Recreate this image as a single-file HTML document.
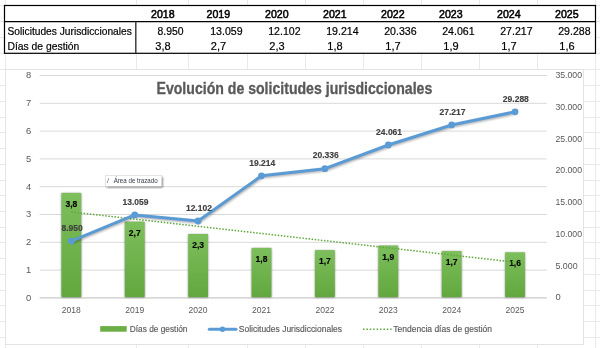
<!DOCTYPE html>
<html><head><meta charset="utf-8"><style>
html,body{margin:0;padding:0;background:#fff;width:600px;height:348px;overflow:hidden}
svg{display:block;will-change:transform}
</style></head><body>
<svg width="600" height="348" viewBox="0 0 600 348">
<line x1="5.5" y1="0" x2="5.5" y2="348" stroke="#e9e9e9" stroke-width="1"/>
<line x1="136.5" y1="0" x2="136.5" y2="348" stroke="#e9e9e9" stroke-width="1"/>
<line x1="188.5" y1="0" x2="188.5" y2="348" stroke="#e9e9e9" stroke-width="1"/>
<line x1="247.5" y1="0" x2="247.5" y2="348" stroke="#e9e9e9" stroke-width="1"/>
<line x1="305.5" y1="0" x2="305.5" y2="348" stroke="#e9e9e9" stroke-width="1"/>
<line x1="363.5" y1="0" x2="363.5" y2="348" stroke="#e9e9e9" stroke-width="1"/>
<line x1="421.5" y1="0" x2="421.5" y2="348" stroke="#e9e9e9" stroke-width="1"/>
<line x1="479.5" y1="0" x2="479.5" y2="348" stroke="#e9e9e9" stroke-width="1"/>
<line x1="537.5" y1="0" x2="537.5" y2="348" stroke="#e9e9e9" stroke-width="1"/>
<line x1="595.5" y1="0" x2="595.5" y2="348" stroke="#e9e9e9" stroke-width="1"/>
<line x1="0" y1="5.5" x2="600" y2="5.5" stroke="#e9e9e9" stroke-width="1"/>
<line x1="0" y1="21.5" x2="600" y2="21.5" stroke="#e9e9e9" stroke-width="1"/>
<line x1="0" y1="37.5" x2="600" y2="37.5" stroke="#e9e9e9" stroke-width="1"/>
<line x1="0" y1="53.5" x2="600" y2="53.5" stroke="#e9e9e9" stroke-width="1"/>
<line x1="0" y1="69.5" x2="600" y2="69.5" stroke="#e9e9e9" stroke-width="1"/>
<line x1="0" y1="85.5" x2="600" y2="85.5" stroke="#e9e9e9" stroke-width="1"/>
<line x1="0" y1="101.5" x2="600" y2="101.5" stroke="#e9e9e9" stroke-width="1"/>
<line x1="0" y1="117.5" x2="600" y2="117.5" stroke="#e9e9e9" stroke-width="1"/>
<line x1="0" y1="132.5" x2="600" y2="132.5" stroke="#e9e9e9" stroke-width="1"/>
<line x1="0" y1="148.5" x2="600" y2="148.5" stroke="#e9e9e9" stroke-width="1"/>
<line x1="0" y1="164.5" x2="600" y2="164.5" stroke="#e9e9e9" stroke-width="1"/>
<line x1="0" y1="180.5" x2="600" y2="180.5" stroke="#e9e9e9" stroke-width="1"/>
<line x1="0" y1="195.5" x2="600" y2="195.5" stroke="#e9e9e9" stroke-width="1"/>
<line x1="0" y1="211.5" x2="600" y2="211.5" stroke="#e9e9e9" stroke-width="1"/>
<line x1="0" y1="227.5" x2="600" y2="227.5" stroke="#e9e9e9" stroke-width="1"/>
<line x1="0" y1="242.5" x2="600" y2="242.5" stroke="#e9e9e9" stroke-width="1"/>
<line x1="0" y1="258.5" x2="600" y2="258.5" stroke="#e9e9e9" stroke-width="1"/>
<line x1="0" y1="274.5" x2="600" y2="274.5" stroke="#e9e9e9" stroke-width="1"/>
<line x1="0" y1="290.5" x2="600" y2="290.5" stroke="#e9e9e9" stroke-width="1"/>
<line x1="0" y1="305.5" x2="600" y2="305.5" stroke="#e9e9e9" stroke-width="1"/>
<line x1="0" y1="321.5" x2="600" y2="321.5" stroke="#e9e9e9" stroke-width="1"/>
<line x1="0" y1="337.5" x2="600" y2="337.5" stroke="#e9e9e9" stroke-width="1"/>
<rect x="4.5" y="5.5" width="591" height="48" fill="#fff"/>
<g stroke="#000" fill="none">
<rect x="4.5" y="5.5" width="591" height="47.8" stroke-width="1.2"/>
<line x1="4.5" y1="21.6" x2="595.5" y2="21.6" stroke-width="1.2"/>
<line x1="135.8" y1="21.6" x2="135.8" y2="53.3" stroke-width="1.4" stroke="#333"/>
</g>
<g font-family='"Liberation Sans", sans-serif' font-size="11" fill="#000" stroke="#000" stroke-width="0.2">
<text x="7.5" y="34.8" textLength="124.3" lengthAdjust="spacingAndGlyphs">Solicitudes Jurisdiccionales</text>
<text x="7.5" y="49.5" textLength="71.8" lengthAdjust="spacingAndGlyphs">Días de gestión</text>
<text x="162.8" y="17.8" text-anchor="middle" font-size="11.6" stroke-width="0.55" textLength="23.6" lengthAdjust="spacingAndGlyphs">2018</text>
<text x="183.6" y="34.8" text-anchor="end" textLength="26.0" lengthAdjust="spacingAndGlyphs">8.950</text>
<text x="163.0" y="49.5" text-anchor="middle">3,8</text>
<text x="218.3" y="17.8" text-anchor="middle" font-size="11.6" stroke-width="0.55" textLength="23.6" lengthAdjust="spacingAndGlyphs">2019</text>
<text x="242.6" y="34.8" text-anchor="end" textLength="32.4" lengthAdjust="spacingAndGlyphs">13.059</text>
<text x="218.5" y="49.5" text-anchor="middle">2,7</text>
<text x="276.8" y="17.8" text-anchor="middle" font-size="11.6" stroke-width="0.55" textLength="23.6" lengthAdjust="spacingAndGlyphs">2020</text>
<text x="300.6" y="34.8" text-anchor="end" textLength="32.4" lengthAdjust="spacingAndGlyphs">12.102</text>
<text x="277.0" y="49.5" text-anchor="middle">2,3</text>
<text x="334.8" y="17.8" text-anchor="middle" font-size="11.6" stroke-width="0.55" textLength="23.6" lengthAdjust="spacingAndGlyphs">2021</text>
<text x="358.6" y="34.8" text-anchor="end" textLength="32.4" lengthAdjust="spacingAndGlyphs">19.214</text>
<text x="335.0" y="49.5" text-anchor="middle">1,8</text>
<text x="392.8" y="17.8" text-anchor="middle" font-size="11.6" stroke-width="0.55" textLength="23.6" lengthAdjust="spacingAndGlyphs">2022</text>
<text x="416.6" y="34.8" text-anchor="end" textLength="32.4" lengthAdjust="spacingAndGlyphs">20.336</text>
<text x="393.0" y="49.5" text-anchor="middle">1,7</text>
<text x="450.8" y="17.8" text-anchor="middle" font-size="11.6" stroke-width="0.55" textLength="23.6" lengthAdjust="spacingAndGlyphs">2023</text>
<text x="474.6" y="34.8" text-anchor="end" textLength="32.4" lengthAdjust="spacingAndGlyphs">24.061</text>
<text x="451.0" y="49.5" text-anchor="middle">1,9</text>
<text x="508.8" y="17.8" text-anchor="middle" font-size="11.6" stroke-width="0.55" textLength="23.6" lengthAdjust="spacingAndGlyphs">2024</text>
<text x="532.6" y="34.8" text-anchor="end" textLength="32.4" lengthAdjust="spacingAndGlyphs">27.217</text>
<text x="509.0" y="49.5" text-anchor="middle">1,7</text>
<text x="566.8" y="17.8" text-anchor="middle" font-size="11.6" stroke-width="0.55" textLength="23.6" lengthAdjust="spacingAndGlyphs">2025</text>
<text x="590.6" y="34.8" text-anchor="end" textLength="32.4" lengthAdjust="spacingAndGlyphs">29.288</text>
<text x="567.0" y="49.5" text-anchor="middle">1,6</text>
</g>
<rect x="5.5" y="69.5" width="578.0" height="275.0" fill="#fff" stroke="#e3e3e3" stroke-width="1"/>
<line x1="39.65" y1="297.9" x2="546.75" y2="297.9" stroke="#d9d9d9" stroke-width="1.7"/>
<line x1="39.65" y1="270.09999999999997" x2="546.75" y2="270.09999999999997" stroke="#d9d9d9" stroke-width="1"/>
<line x1="39.65" y1="242.29999999999998" x2="546.75" y2="242.29999999999998" stroke="#d9d9d9" stroke-width="1"/>
<line x1="39.65" y1="214.5" x2="546.75" y2="214.5" stroke="#d9d9d9" stroke-width="1"/>
<line x1="39.65" y1="186.7" x2="546.75" y2="186.7" stroke="#d9d9d9" stroke-width="1"/>
<line x1="39.65" y1="158.89999999999998" x2="546.75" y2="158.89999999999998" stroke="#d9d9d9" stroke-width="1"/>
<line x1="39.65" y1="131.1" x2="546.75" y2="131.1" stroke="#d9d9d9" stroke-width="1"/>
<line x1="39.65" y1="103.30000000000001" x2="546.75" y2="103.30000000000001" stroke="#d9d9d9" stroke-width="1"/>
<line x1="39.65" y1="75.5" x2="546.75" y2="75.5" stroke="#d9d9d9" stroke-width="1"/>
<g font-family='"Liberation Sans", sans-serif' font-size="9.4" fill="#595959">
<text x="28.6" y="300.7" text-anchor="middle">0</text>
<text x="28.6" y="272.9" text-anchor="middle">1</text>
<text x="28.6" y="245.1" text-anchor="middle">2</text>
<text x="28.6" y="217.3" text-anchor="middle">3</text>
<text x="28.6" y="189.5" text-anchor="middle">4</text>
<text x="28.6" y="161.7" text-anchor="middle">5</text>
<text x="28.6" y="133.9" text-anchor="middle">6</text>
<text x="28.6" y="106.10000000000001" text-anchor="middle">7</text>
<text x="28.6" y="78.3" text-anchor="middle">8</text>
<text x="555.4" y="300.4">0</text>
<text x="555.4" y="268.62857142857143" textLength="22.2" lengthAdjust="spacingAndGlyphs">5.000</text>
<text x="555.4" y="236.85714285714283" textLength="26.7" lengthAdjust="spacingAndGlyphs">10.000</text>
<text x="555.4" y="205.0857142857143" textLength="26.7" lengthAdjust="spacingAndGlyphs">15.000</text>
<text x="555.4" y="173.31428571428572" textLength="26.7" lengthAdjust="spacingAndGlyphs">20.000</text>
<text x="555.4" y="141.54285714285714" textLength="26.7" lengthAdjust="spacingAndGlyphs">25.000</text>
<text x="555.4" y="109.77142857142857" textLength="26.7" lengthAdjust="spacingAndGlyphs">30.000</text>
<text x="555.4" y="78.0" textLength="26.7" lengthAdjust="spacingAndGlyphs">35.000</text>
<text x="71.34375" y="313.0" text-anchor="middle" textLength="19.0" lengthAdjust="spacingAndGlyphs">2018</text>
<text x="134.73125000000002" y="313.0" text-anchor="middle" textLength="19.0" lengthAdjust="spacingAndGlyphs">2019</text>
<text x="198.11875" y="313.0" text-anchor="middle" textLength="19.0" lengthAdjust="spacingAndGlyphs">2020</text>
<text x="261.50625" y="313.0" text-anchor="middle" textLength="19.0" lengthAdjust="spacingAndGlyphs">2021</text>
<text x="324.89375" y="313.0" text-anchor="middle" textLength="19.0" lengthAdjust="spacingAndGlyphs">2022</text>
<text x="388.28125" y="313.0" text-anchor="middle" textLength="19.0" lengthAdjust="spacingAndGlyphs">2023</text>
<text x="451.66875" y="313.0" text-anchor="middle" textLength="19.0" lengthAdjust="spacingAndGlyphs">2024</text>
<text x="515.05625" y="313.0" text-anchor="middle" textLength="19.0" lengthAdjust="spacingAndGlyphs">2025</text>
</g>
<text x="156.5" y="93.6" font-family='"Liberation Sans", sans-serif' font-size="15.8" font-weight="bold" fill="#595959" stroke="#595959" stroke-width="0.3" textLength="275.8" lengthAdjust="spacingAndGlyphs">Evolución de solicitudes jurisdiccionales</text>
<defs><linearGradient id="bg" x1="0" y1="0" x2="0" y2="1"><stop offset="0" stop-color="#7dbf5c"/><stop offset="1" stop-color="#62a73e"/></linearGradient><filter id="bsh" x="-30%" y="-10%" width="160%" height="120%"><feGaussianBlur stdDeviation="1.2"/></filter><filter id="lsh" x="-10%" y="-10%" width="120%" height="120%"><feGaussianBlur stdDeviation="0.9"/></filter></defs>
<rect x="61.44375" y="193.4" width="19.8" height="103.79999999999998" fill="#000" opacity="0.45" filter="url(#bsh)"/>
<rect x="61.44375" y="192.9" width="19.8" height="104.29999999999998" fill="url(#bg)"/>
<rect x="124.83125000000001" y="222.1" width="19.8" height="75.1" fill="#000" opacity="0.45" filter="url(#bsh)"/>
<rect x="124.83125000000001" y="221.6" width="19.8" height="75.6" fill="url(#bg)"/>
<rect x="188.21875" y="234.5" width="19.8" height="62.69999999999999" fill="#000" opacity="0.45" filter="url(#bsh)"/>
<rect x="188.21875" y="234.0" width="19.8" height="63.19999999999999" fill="url(#bg)"/>
<rect x="251.60625000000002" y="248.4" width="19.8" height="48.79999999999998" fill="#000" opacity="0.45" filter="url(#bsh)"/>
<rect x="251.60625000000002" y="247.9" width="19.8" height="49.29999999999998" fill="url(#bg)"/>
<rect x="314.99375000000003" y="250.6" width="19.8" height="46.599999999999994" fill="#000" opacity="0.45" filter="url(#bsh)"/>
<rect x="314.99375000000003" y="250.1" width="19.8" height="47.099999999999994" fill="url(#bg)"/>
<rect x="378.38125" y="246.0" width="19.8" height="51.19999999999999" fill="#000" opacity="0.45" filter="url(#bsh)"/>
<rect x="378.38125" y="245.5" width="19.8" height="51.69999999999999" fill="url(#bg)"/>
<rect x="441.76875" y="251.5" width="19.8" height="45.69999999999999" fill="#000" opacity="0.45" filter="url(#bsh)"/>
<rect x="441.76875" y="251.0" width="19.8" height="46.19999999999999" fill="url(#bg)"/>
<rect x="505.15625" y="252.8" width="19.8" height="44.39999999999998" fill="#000" opacity="0.45" filter="url(#bsh)"/>
<rect x="505.15625" y="252.3" width="19.8" height="44.89999999999998" fill="url(#bg)"/>
<g font-family='"Liberation Sans", sans-serif' font-size="8.5" font-weight="bold" fill="#000" stroke="#000" stroke-width="0.15">
<text x="71.34375" y="206.9" text-anchor="middle">3,8</text>
<text x="134.73125000000002" y="235.6" text-anchor="middle">2,7</text>
<text x="198.11875" y="248.0" text-anchor="middle">2,3</text>
<text x="261.50625" y="261.9" text-anchor="middle">1,8</text>
<text x="324.89375" y="264.1" text-anchor="middle">1,7</text>
<text x="388.28125" y="259.5" text-anchor="middle">1,9</text>
<text x="451.66875" y="265.0" text-anchor="middle">1,7</text>
<text x="515.05625" y="266.3" text-anchor="middle">1,6</text>
</g>
<line x1="71.34375" y1="211.95074" x2="515.05625" y2="262.22425999999996" stroke="#5fa83b" stroke-width="1.5" stroke-dasharray="1.5 1.6"/>
<polyline points="71.94,242.33 135.33,216.22 198.72,222.30 262.11,177.11 325.49,169.98 388.88,146.31 452.27,126.26 515.66,113.10" fill="none" stroke="#000" opacity="0.3" filter="url(#lsh)" stroke-width="3" stroke-linejoin="round"/>
<polyline points="71.34,241.03 134.73,214.92 198.12,221.00 261.51,175.81 324.89,168.68 388.28,145.01 451.67,124.96 515.06,111.80" fill="none" stroke="#5b9bd5" stroke-width="3" stroke-linejoin="round" stroke-linecap="round"/>
<circle cx="71.34" cy="241.03" r="3.4" fill="#5b9bd5"/>
<circle cx="134.73" cy="214.92" r="3.4" fill="#5b9bd5"/>
<circle cx="198.12" cy="221.00" r="3.4" fill="#5b9bd5"/>
<circle cx="261.51" cy="175.81" r="3.4" fill="#5b9bd5"/>
<circle cx="324.89" cy="168.68" r="3.4" fill="#5b9bd5"/>
<circle cx="388.28" cy="145.01" r="3.4" fill="#5b9bd5"/>
<circle cx="451.67" cy="124.96" r="3.4" fill="#5b9bd5"/>
<circle cx="515.06" cy="111.80" r="3.4" fill="#5b9bd5"/>
<g font-family='"Liberation Sans", sans-serif' font-size="8.5" font-weight="bold" fill="#404040" stroke="#404040" stroke-width="0.15">
<text x="72.14375" y="230.82914285714284" text-anchor="middle">8.950</text>
<text x="135.53125000000003" y="204.71938285714285" text-anchor="middle">13.059</text>
<text x="198.91875000000002" y="210.8004342857143" text-anchor="middle">12.102</text>
<text x="262.30625000000003" y="165.60875428571427" text-anchor="middle">19.214</text>
<text x="325.69375" y="158.47924571428572" text-anchor="middle">20.336</text>
<text x="389.08125" y="134.80953142857143" text-anchor="middle">24.061</text>
<text x="452.46875" y="114.75540571428571" text-anchor="middle">27.217</text>
<text x="515.8562499999999" y="101.59568" text-anchor="middle">29.288</text>
</g>
<rect x="106.7" y="177" width="56" height="10.6" fill="#000" opacity="0.5" filter="url(#lsh)"/>
<rect x="105.7" y="175.7" width="56" height="10.6" fill="#fff" stroke="#d0d0d0" stroke-width="0.5"/>
<text x="113.7" y="183.2" font-family='"Liberation Sans", sans-serif' font-size="7" fill="#333a44" textLength="44" lengthAdjust="spacingAndGlyphs">Área de trazado</text>
<text x="107" y="183.2" font-family='"Liberation Sans", sans-serif' font-size="7" fill="#555">/</text>
<rect x="100.2" y="326.1" width="26.5" height="5.6" fill="#6aae45"/>
<g font-family='"Liberation Sans", sans-serif' font-size="8.8" fill="#595959" stroke="#595959" stroke-width="0.15">
<text x="129.8" y="332.3" textLength="57.7" lengthAdjust="spacingAndGlyphs">Días de gestión</text>
<text x="238.8" y="332.3" textLength="103.2" lengthAdjust="spacingAndGlyphs">Solicitudes Jurisdiccionales</text>
<text x="393.3" y="332.3" textLength="98.7" lengthAdjust="spacingAndGlyphs">Tendencia días de gestión</text>
</g>
<line x1="209.3" y1="329.2" x2="236" y2="329.2" stroke="#5b9bd5" stroke-width="3" stroke-linecap="round"/>
<circle cx="222.5" cy="329.2" r="2.7" fill="#5b9bd5"/>
<line x1="363" y1="329.3" x2="391.6" y2="329.3" stroke="#5fa83b" stroke-width="1.5" stroke-dasharray="1.5 1.9"/>
</svg>
</body></html>
